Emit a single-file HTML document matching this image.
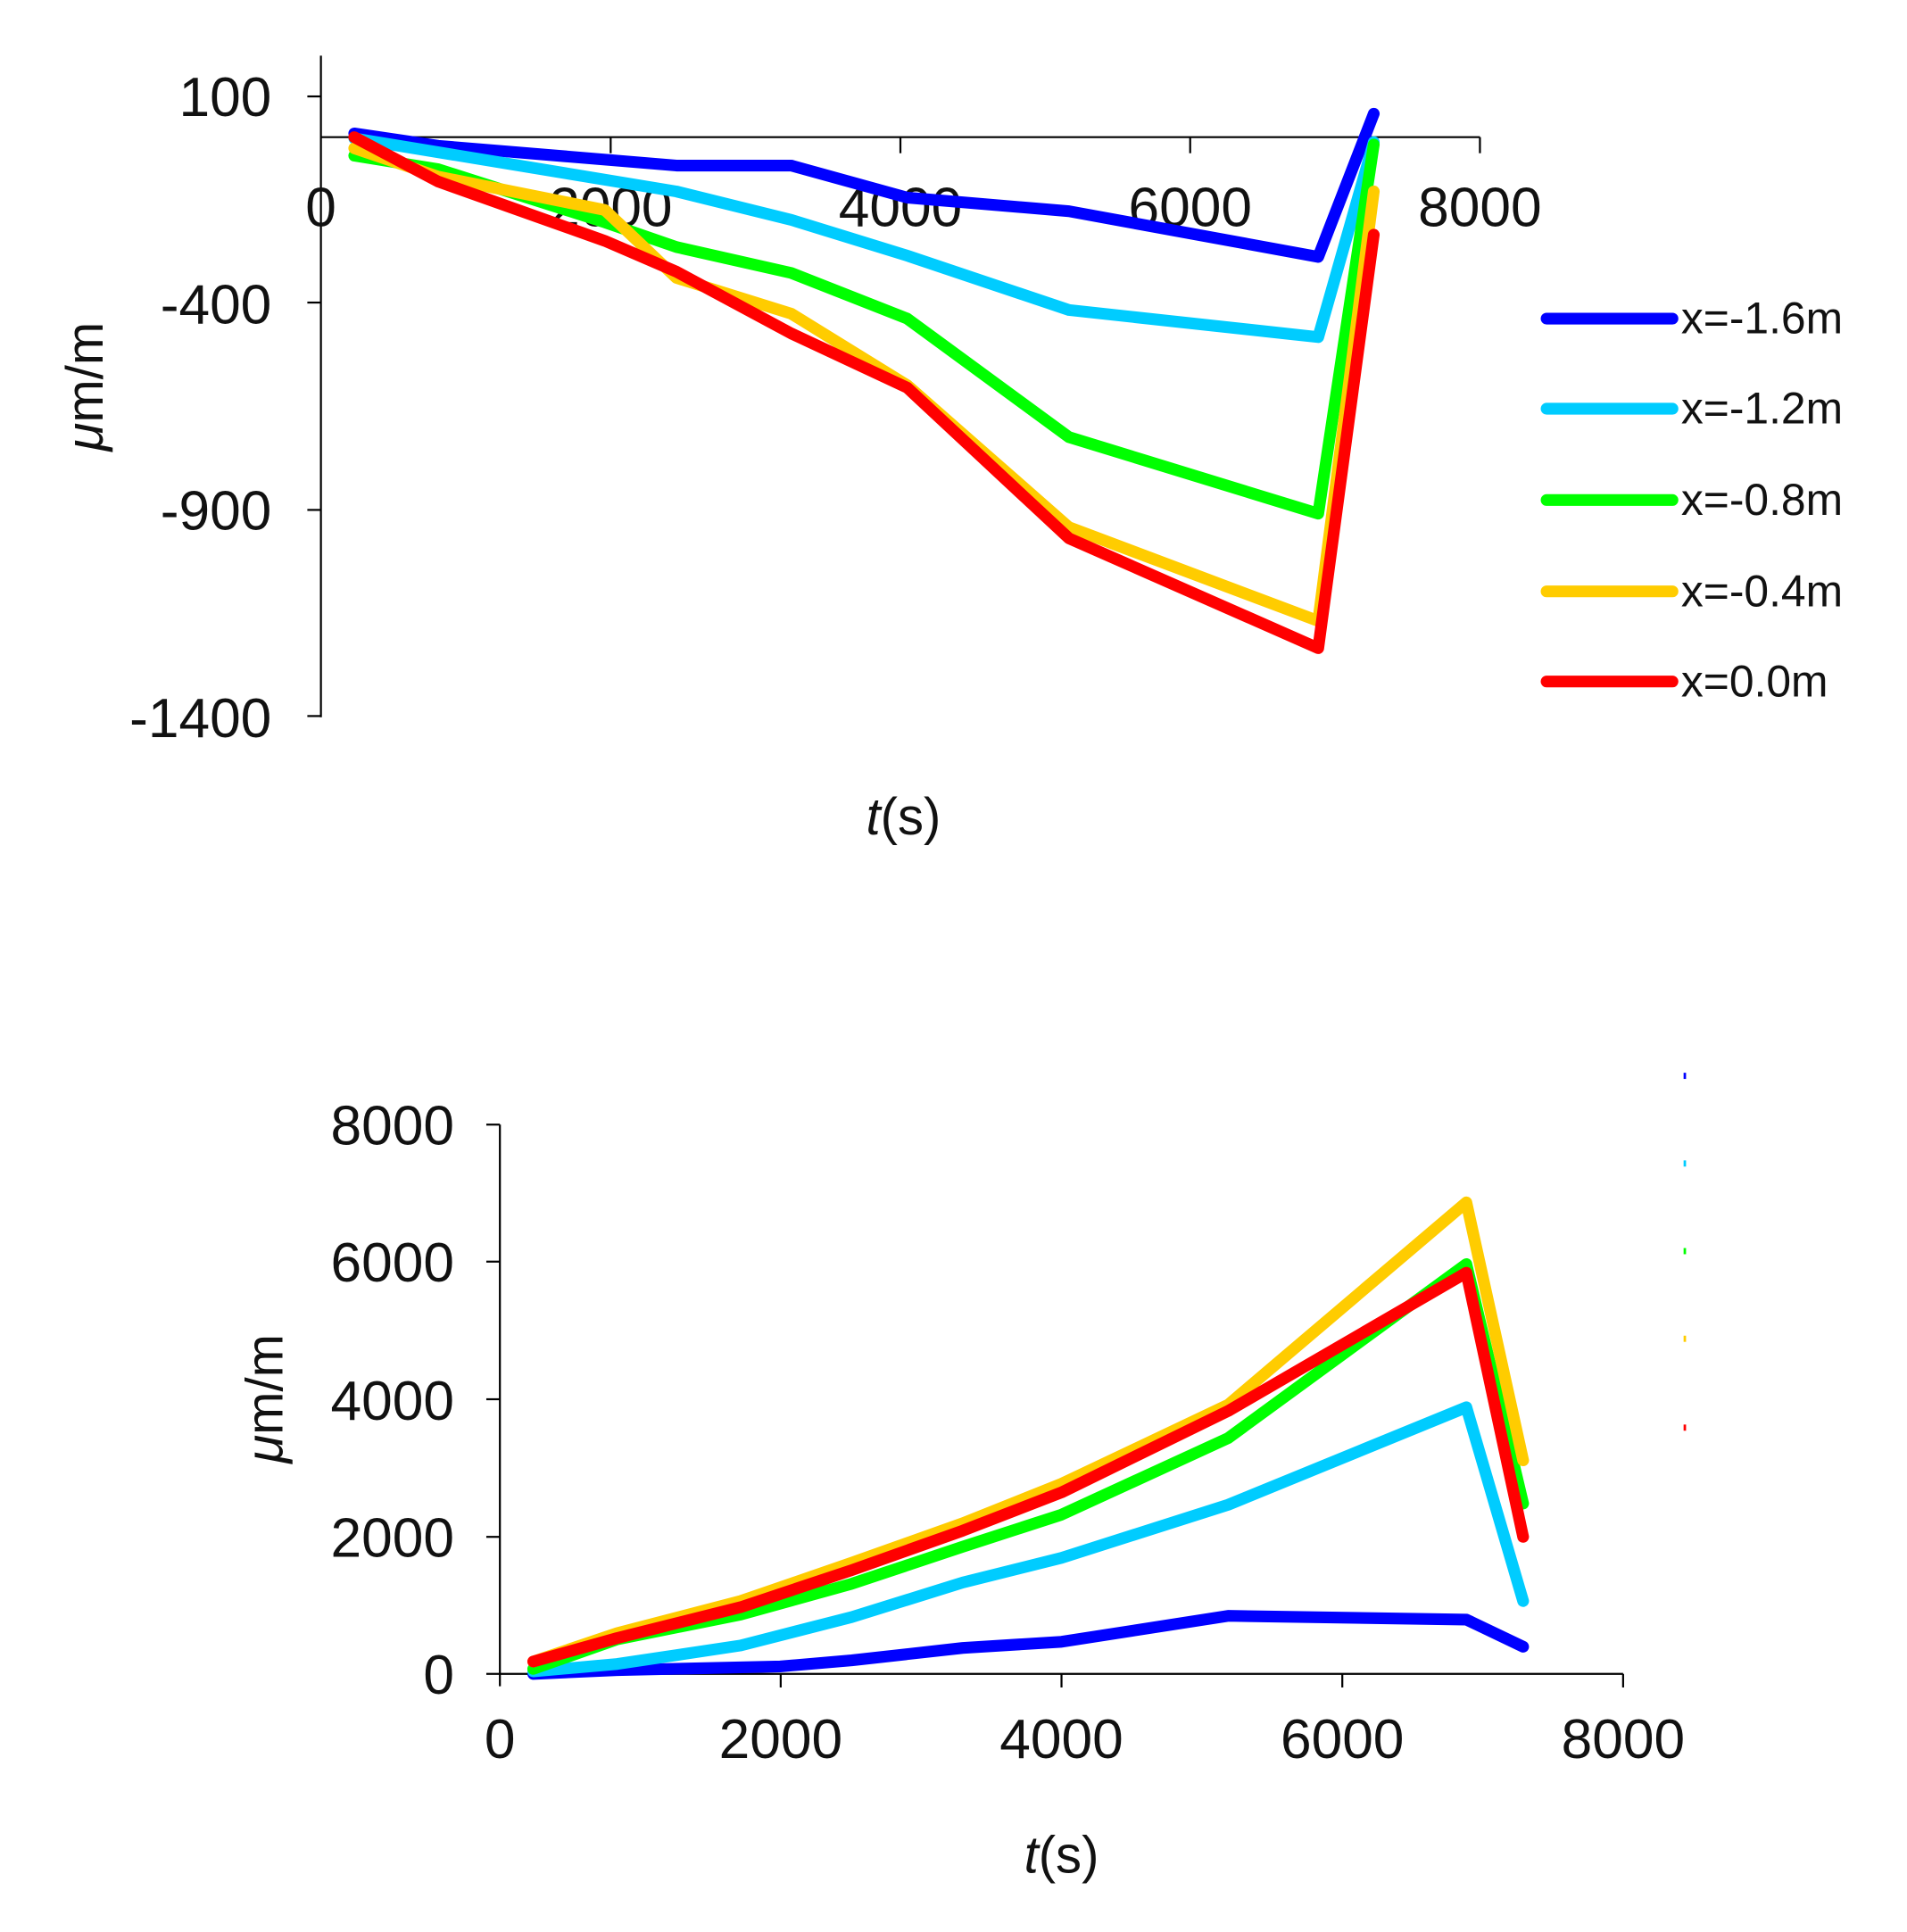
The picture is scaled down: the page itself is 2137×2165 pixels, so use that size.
<!DOCTYPE html>
<html><head><meta charset="utf-8"><style>html,body{margin:0;padding:0;background:#fff}svg{display:block}</style></head>
<body>
<svg width="2137" height="2165" viewBox="0 0 1545 1565" xmlns="http://www.w3.org/2000/svg" font-family="Liberation Sans, sans-serif">
<rect width="1545" height="1565" fill="#fff"/>
<!-- TOP CHART -->
<g stroke="#000" stroke-width="1.6" fill="none">
<line x1="260" y1="45" x2="260" y2="581"/>
<line x1="260" y1="111" x2="1199" y2="111"/>
<line x1="249" y1="78" x2="260" y2="78"/>
<line x1="249" y1="245" x2="260" y2="245"/>
<line x1="249" y1="413" x2="260" y2="413"/>
<line x1="249" y1="580" x2="260" y2="580"/>
<line x1="494.75" y1="111" x2="494.75" y2="124"/>
<line x1="729.5" y1="111" x2="729.5" y2="124"/>
<line x1="964.25" y1="111" x2="964.25" y2="124"/>
<line x1="1199" y1="111" x2="1199" y2="124"/>
</g>
<g font-size="45" fill="#111" text-anchor="end">
<text x="220" y="94">100</text>
<text x="220" y="262">-400</text>
<text x="220" y="429">-900</text>
<text x="220" y="597">-1400</text>
</g>
<g font-size="45" fill="#111" text-anchor="middle">
<text x="260" y="183">0</text>
<text x="494.75" y="183">2000</text>
<text x="729.5" y="183">4000</text>
<text x="964.25" y="183">6000</text>
<text x="1199" y="183">8000</text>
</g>
<g fill="none" stroke-width="9.5" stroke-linejoin="round" stroke-linecap="round">
<polyline stroke="#0000ff" points="287,108 355,118 548,134 641,134 735,160 866,171 1068,208 1113,92"/>
<polyline stroke="#00ccff" points="287,112 548,155 641,178 735,207 866,251 1068,273 1113,115"/>
<polyline stroke="#00ff00" points="287,126 355,137 490,180 548,200 641,221 735,258 866,354 1068,416 1113,117"/>
<polyline stroke="#ffcc00" points="287,120 355,143 490,170 548,225 641,254 735,312 866,427 1068,503 1113,155"/>
<polyline stroke="#ff0000" points="287,111 355,147 490,195 548,220 641,270 735,314 866,436 1068,525 1113,190"/>
</g>
<g stroke-width="9.5" stroke-linecap="round">
<line x1="1253" y1="258" x2="1355" y2="258" stroke="#0000ff"/>
<line x1="1253" y1="331" x2="1355" y2="331" stroke="#00ccff"/>
<line x1="1253" y1="405" x2="1355" y2="405" stroke="#00ff00"/>
<line x1="1253" y1="479" x2="1355" y2="479" stroke="#ffcc00"/>
<line x1="1253" y1="552" x2="1355" y2="552" stroke="#ff0000"/>
</g>
<g font-size="36" fill="#111">
<text x="1362" y="270">x=-1.6m</text>
<text x="1362" y="343">x=-1.2m</text>
<text x="1362" y="417">x=-0.8m</text>
<text x="1362" y="491">x=-0.4m</text>
<text x="1362" y="564">x=0.0m</text>
</g>
<text x="0" y="0" font-size="42" fill="#111" text-anchor="middle" transform="translate(83,313) rotate(-90)"><tspan font-style="italic">μ</tspan>m/m</text>
<text x="732" y="676" font-size="42" fill="#111" text-anchor="middle"><tspan font-style="italic">t</tspan>(s)</text>

<!-- BOTTOM CHART -->
<g stroke="#000" stroke-width="1.6" fill="none">
<line x1="405" y1="911" x2="405" y2="1366"/>
<line x1="405" y1="1356" x2="1315" y2="1356"/>
<line x1="394" y1="911" x2="405" y2="911"/>
<line x1="394" y1="1022" x2="405" y2="1022"/>
<line x1="394" y1="1133.5" x2="405" y2="1133.5"/>
<line x1="394" y1="1245" x2="405" y2="1245"/>
<line x1="394" y1="1356" x2="405" y2="1356"/>
<line x1="632.5" y1="1356" x2="632.5" y2="1367"/>
<line x1="860" y1="1356" x2="860" y2="1367"/>
<line x1="1087.5" y1="1356" x2="1087.5" y2="1367"/>
<line x1="1315" y1="1356" x2="1315" y2="1367"/>
</g>
<g font-size="45" fill="#111" text-anchor="end">
<text x="368" y="927">8000</text>
<text x="368" y="1038">6000</text>
<text x="368" y="1150">4000</text>
<text x="368" y="1261">2000</text>
<text x="368" y="1372">0</text>
</g>
<g font-size="45" fill="#111" text-anchor="middle">
<text x="405" y="1424">0</text>
<text x="632.5" y="1424">2000</text>
<text x="860" y="1424">4000</text>
<text x="1087.5" y="1424">6000</text>
<text x="1315" y="1424">8000</text>
</g>
<g fill="none" stroke-width="9.5" stroke-linejoin="round" stroke-linecap="round">
<polyline stroke="#0000ff" points="432,1356 500,1353 632,1350 690,1345 780,1335 860,1330 995,1309 1188,1312 1234,1334"/>
<polyline stroke="#00ccff" points="432,1354 500,1348 600,1333 690,1310 780,1282 860,1262 995,1219 1188,1140 1234,1297"/>
<polyline stroke="#00ff00" points="432,1352 500,1328 600,1308 690,1283 780,1253 860,1227 995,1165 1188,1024 1234,1218"/>
<polyline stroke="#ffcc00" points="432,1346 500,1323 600,1297 690,1266 780,1234 860,1202 995,1138 1188,974 1234,1183"/>
<polyline stroke="#ff0000" points="432,1346 500,1327 600,1302 690,1272 780,1240 860,1209 995,1143 1188,1031 1234,1245"/>
</g>
<g>
<rect x="1364" y="869" width="2" height="5" fill="#0000ff"/>
<rect x="1364" y="940" width="2" height="5" fill="#00ccff"/>
<rect x="1364" y="1011" width="2" height="5" fill="#00ff00"/>
<rect x="1364" y="1082" width="2" height="5" fill="#ffcc00"/>
<rect x="1364" y="1154" width="2" height="5" fill="#ff0000"/>
</g>
<text x="0" y="0" font-size="42" fill="#111" text-anchor="middle" transform="translate(229,1133) rotate(-90)"><tspan font-style="italic">μ</tspan>m/m</text>
<text x="860" y="1517" font-size="42" fill="#111" text-anchor="middle"><tspan font-style="italic">t</tspan>(s)</text>
</svg>
</body></html>
